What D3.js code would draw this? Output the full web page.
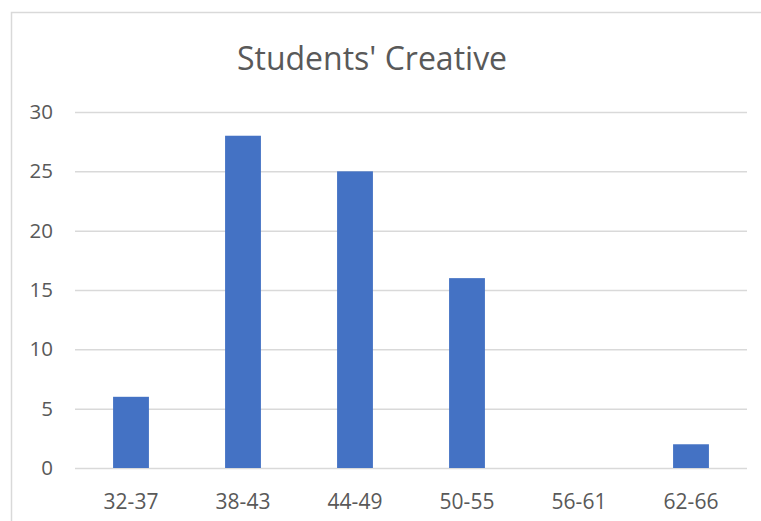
<!DOCTYPE html>
<html>
<head>
<meta charset="utf-8">
<script src="https://cdn.jsdelivr.net/npm/d3@7"></script>
<style>
  body { margin: 0; background: #fff; }
  text { font-family: "Open Sans", sans-serif; fill: #595959; }
</style>
</head>
<body>
<div class="chart"></div>
<script>
// data
const categories = ['32-37', '38-43', '44-49', '50-55', '56-61', '62-66'];
const counts = [6, 28, 25, 16, 0, 2];
const yTicks = [0, 5, 10, 15, 20, 25, 30];
const title = "Students' Creative";

const width = 761;
const height = 521;
const margin = {top: 112, left: 75, right: 14, bottom: 53};

const svg = d3.select('.chart').append('svg')
  .attr('width', width)
  .attr('height', height);

// chart border (runs off the right and bottom)
svg.append('rect')
  .attr('x', 11.5)
  .attr('y', 12.5)
  .attr('width', width)
  .attr('height', height)
  .attr('fill', 'none')
  .attr('stroke', '#d9d9d9')
  .attr('stroke-width', 1.5);

const x = d3.scaleBand()
  .domain(categories)
  .range([margin.left, width - margin.right])
  .paddingInner(0.68)
  .paddingOuter(0.34);

const y = d3.scaleLinear()
  .domain([0, 30])
  .range([height - margin.bottom, margin.top]);

// gridlines + y labels
const yAxis = d3.axisLeft(y)
  .tickValues(yTicks)
  .tickSize(-(width - margin.left - margin.right))
  .tickPadding(22);

svg.append('g')
  .attr('transform', `translate(${margin.left},0)`)
  .call(yAxis)
  .call(g => g.select('.domain').remove())
  .call(g => g.selectAll('line').attr('stroke', '#d9d9d9').attr('stroke-width', 1.5))
  .call(g => g.selectAll('text')
    .attr('fill', '#595959')
    .style('font-family', '"Open Sans", sans-serif')
    .style('font-size', '20.5px'));

// bars
svg.append('g')
  .selectAll('rect')
  .data(categories.map((c, i) => ({cat: c, val: counts[i]})))
  .enter()
  .append('rect')
  .attr('x', d => x(d.cat))
  .attr('y', d => y(d.val))
  .attr('width', x.bandwidth())
  .attr('height', d => y(0) - y(d.val))
  .attr('fill', '#4472c4');

// x labels
const xAxis = d3.axisBottom(x).tickSize(0).tickPadding(26);
svg.append('g')
  .attr('transform', `translate(0,${height - margin.bottom})`)
  .call(xAxis)
  .call(g => g.select('.domain').remove())
  .call(g => g.selectAll('text')
    .attr('fill', '#595959')
    .style('font-family', '"Open Sans", sans-serif')
    .style('font-size', '21px'));

svg.append('text')
  .attr('x', 372)
  .attr('y', 70)
  .attr('text-anchor', 'middle')
  .style('font-size', '32px')
  .text(title);
</script>
</body>
</html>
